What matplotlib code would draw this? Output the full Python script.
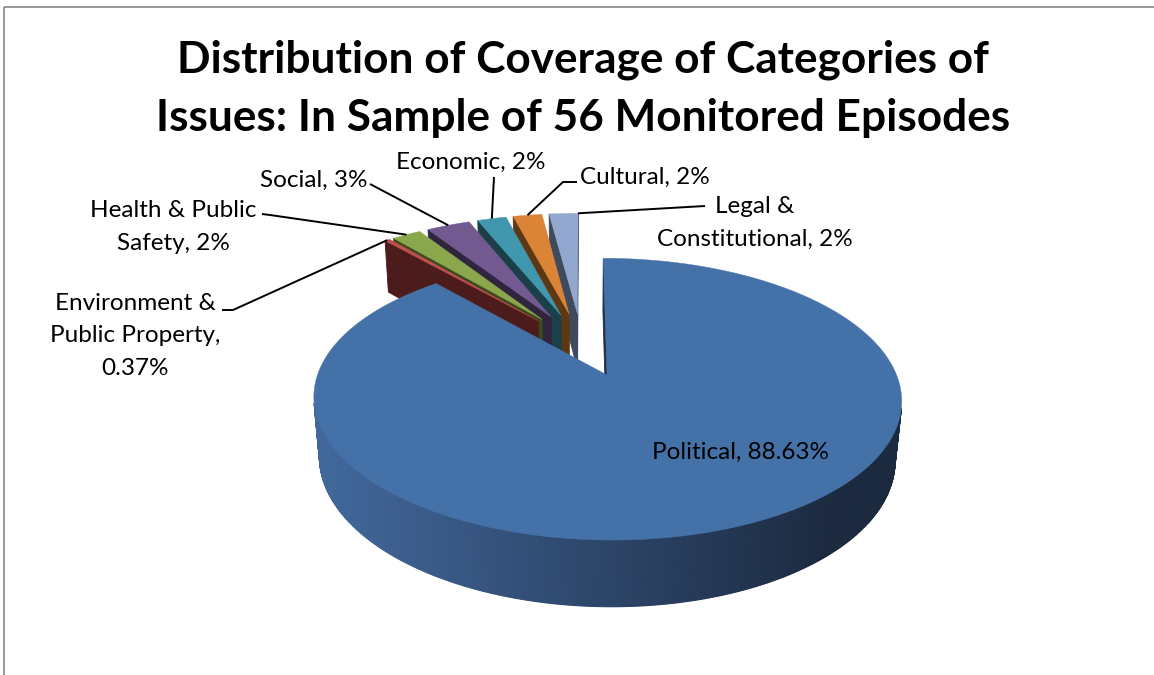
import numpy as np
import matplotlib
matplotlib.use("Agg")
import matplotlib.pyplot as plt
from matplotlib.patches import Polygon, Rectangle
import matplotlib.colors as mcolors

# ── Data: shares in %, clockwise from 12 o'clock ─────────────────────────
categories = ["Political", "Environment & Public Property", "Health & Public Safety",
              "Social", "Economic", "Cultural", "Legal & Constitutional"]
shares = [88.63, 0.37, 2, 3, 2, 2, 2]
label_texts = ["Political, 88.63%", "Environment &\nPublic Property,\n0.37%",
               "Health & Public\nSafety, 2%", "Social, 3%", "Economic, 2%",
               "Cultural, 2%", "Legal &\nConstitutional, 2%"]

top_colors = ["#4472A8", "#C0504D", "#8BA74B", "#72598F", "#4198AE", "#DB8438", "#93A8CF"]
wall_colors = ["#1F2F47", "#4B1C1B", "#3A4A1E", "#30253F", "#1B4049", "#5E3813", "#3F4A5C"]

# label layout (pixel coords) and leader line start points
label_pos = [(741, 452), (135, 336), (173, 227), (314, 180), (471, 162), (645, 177), (755, 223)]
leader_start = [None, [(222, 310), (233, 310)], [(262, 214), (270, 215)], [(370, 184)],
                [(494, 177)], [(577, 182), (563, 182)], [(705, 206)]]
anchor_frac = [0.5, 0.5, 0.5, 0.5, 0.5, 0.5, 0.0]

title_lines = ["Distribution of Coverage of Categories of",
               "Issues: In Sample of 56 Monitored Episodes"]

# ── Camera / pie geometry ─────────────────────────────────────────────────
W, H = 1154, 675
CX, CY = 581.7, 344.2
FOCAL = 1503.0
DIST = 5.40
TILT = np.radians(27.0)
THICK = 0.235
EXPLODE = 0.25
SN, CS = np.sin(TILT), np.cos(TILT)
CAM = np.array([0.0, -DIST * CS, DIST * SN])


def project(x, y, z):
    x, y, z = np.asarray(x, float), np.asarray(y, float), np.asarray(z, float)
    d = DIST + y * CS - z * SN
    return CX + FOCAL * x / d, CY - FOCAL * (y * SN + z * CS) / d


def poly(ax, xs, ys, color, z, lw=0.6):
    ax.add_patch(Polygon(np.column_stack([xs, ys]), closed=True, facecolor=color,
                         edgecolor=color, linewidth=lw, zorder=z))


side_light = np.array(mcolors.to_rgb("#41679B"))
side_dark = np.array(mcolors.to_rgb("#1C2A40"))


def side_color(px):
    t = np.clip((px - 330) / (830 - 330), 0, 1)
    return tuple(side_light * (1 - t) + side_dark * t)


fig = plt.figure(figsize=(W / 100, H / 100), dpi=100)
ax = fig.add_axes([0, 0, 1, 1])
ax.set_xlim(0, W)
ax.set_ylim(H, 0)
ax.axis("off")

# ── Build slices ──────────────────────────────────────────────────────────
slices = []
start = 90.0
for i, share in enumerate(shares):
    t2 = start
    t1 = start - 360.0 * share / 100.0
    start = t1
    mid = np.radians((t1 + t2) / 2)
    ox, oy = EXPLODE * np.cos(mid), EXPLODE * np.sin(mid)
    cx3, cy3 = ox + 0.6 * np.cos(mid), oy + 0.6 * np.sin(mid)
    dist = np.hypot(cx3 - CAM[0], cy3 - CAM[1])
    slices.append(dict(i=i, t1=t1, t2=t2, ox=ox, oy=oy, dist=dist))

order = sorted(slices, key=lambda s: -s["dist"])

for rank, s in enumerate(order):
    i, ox, oy = s["i"], s["ox"], s["oy"]
    t1, t2 = np.radians(s["t1"]), np.radians(s["t2"])
    zb = 10 + rank * 10

    # radial walls (only the ones facing the camera)
    for t, n in ((t2, (-np.sin(t2), np.cos(t2))), (t1, (np.sin(t1), -np.cos(t1)))):
        if n[0] * (CAM[0] - ox) + n[1] * (CAM[1] - oy) <= 0:
            continue
        rx, ry = ox + np.cos(t), oy + np.sin(t)
        xs, ys = project([ox, rx, rx, ox], [oy, ry, ry, oy], [0, 0, -THICK, -THICK])
        poly(ax, xs, ys, wall_colors[i], zb)

    # outer curved wall, shaded strip by strip
    n_steps = max(2, int(abs(s["t2"] - s["t1"]) / 0.5))
    edges = np.linspace(t1, t2, n_steps + 1)
    for a, b in zip(edges[:-1], edges[1:]):
        m = (a + b) / 2
        px, py = ox + np.cos(m), oy + np.sin(m)
        if np.cos(m) * (CAM[0] - px) + np.sin(m) * (CAM[1] - py) <= 0:
            continue
        xs, ys = project([ox + np.cos(a), ox + np.cos(b), ox + np.cos(b), ox + np.cos(a)],
                         [oy + np.sin(a), oy + np.sin(b), oy + np.sin(b), oy + np.sin(a)],
                         [0, 0, -THICK, -THICK])
        col = side_color(xs.mean()) if i == 0 else wall_colors[i]
        poly(ax, xs, ys, col, zb + 1, lw=0.8)

    # top face
    arc = np.linspace(t1, t2, n_steps + 1)
    xs, ys = project(np.r_[ox, ox + np.cos(arc)], np.r_[oy, oy + np.sin(arc)],
                     np.zeros(len(arc) + 1))
    poly(ax, xs, ys, top_colors[i], zb + 2, lw=0.3)

    # leader line from label to the slice rim
    if leader_start[i] is not None:
        ta = t1 + anchor_frac[i] * (t2 - t1)
        axp, ayp = project(ox + np.cos(ta), oy + np.sin(ta), 0.0)
        pts = list(leader_start[i]) + [(float(axp), float(ayp))]
        lx, ly = zip(*pts)
        ax.plot(lx, ly, color="black", linewidth=1.4, zorder=200, solid_capstyle="butt")

# ── Labels ────────────────────────────────────────────────────────────────
for i, txt in enumerate(label_texts):
    ax.text(label_pos[i][0], label_pos[i][1], txt, ha="center", va="center",
            fontsize=17.5, family="Lato", linespacing=1.7, zorder=300)

for line, y in zip(title_lines, (60, 118)):
    ax.text(583, y, line, ha="center", va="center", fontsize=31.8, fontweight="bold",
            family="Lato", zorder=300)

# chart-area frame (clipped at right and bottom)
ax.add_patch(Rectangle((3.5, 6.5), W + 20, H + 20, fill=False, edgecolor="#868686",
                       linewidth=1.2, zorder=400, clip_on=False))

fig.savefig("out.png", dpi=100)
